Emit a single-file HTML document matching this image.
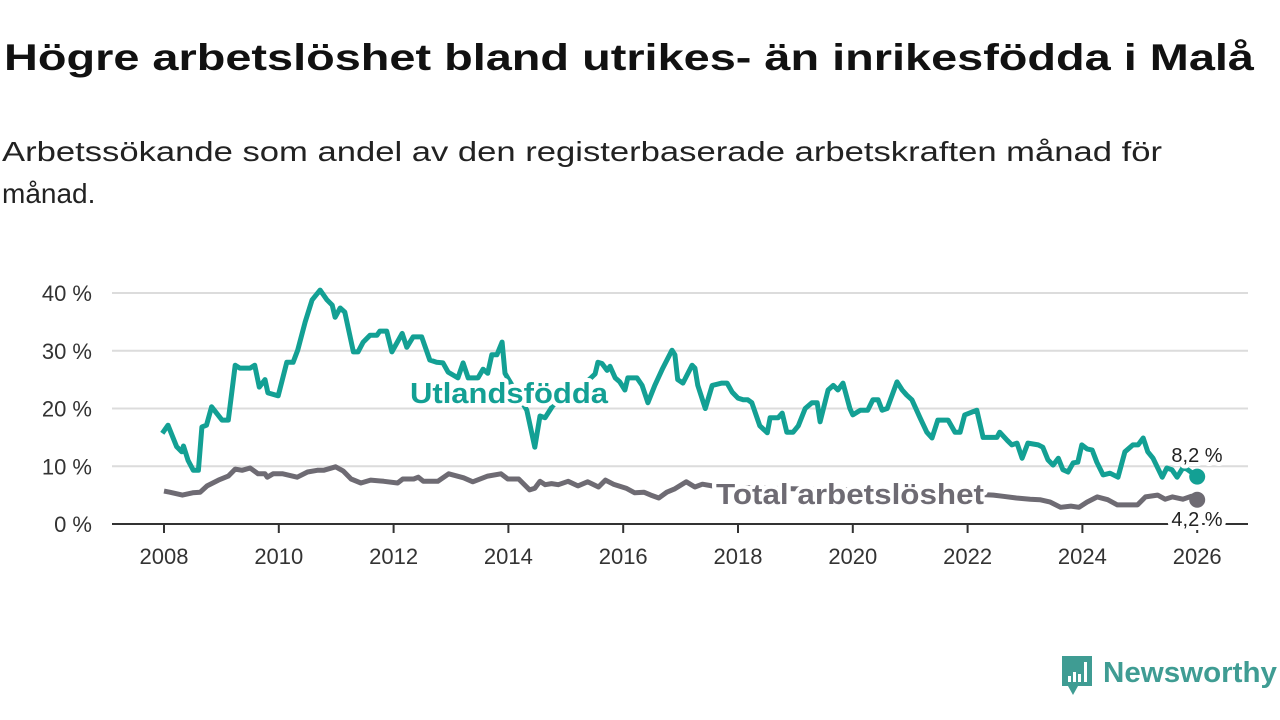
<!DOCTYPE html>
<html><head><meta charset="utf-8"><style>
html,body{margin:0;padding:0;background:#fff;}
svg{display:block;font-family:"Liberation Sans",sans-serif;}
</style></head><body>
<svg id="chart" width="1280" height="720" viewBox="0 0 1280 720">
<text x="4" y="70" font-size="37" font-weight="bold" fill="#111" textLength="1250" lengthAdjust="spacingAndGlyphs">Högre arbetslöshet bland utrikes- än inrikesfödda i Malå</text>
<text x="2" y="161" font-size="28" fill="#222" textLength="1160" lengthAdjust="spacingAndGlyphs">Arbetssökande som andel av den registerbaserade arbetskraften månad för</text>
<text x="2" y="203" font-size="28" fill="#222">månad.</text>
<g id="grid"></g>
<g id="ylabels"></g>
<g id="xaxis"></g>
<g id="series"></g>
<g id="labels"></g>
<g>
<path d="M1062 656 h30 v30 h-14 l-5 9 l-5 -9 h-6 z" fill="#3f9c93"/>
<rect x="1068" y="676" width="3" height="6" fill="#fff"/><rect x="1073" y="672" width="3" height="10" fill="#fff"/><rect x="1078" y="674" width="3" height="8" fill="#fff"/><rect x="1084" y="662" width="3" height="20" fill="#fff"/>
<text x="1103" y="682" font-size="29" font-weight="bold" fill="#3f9c93" textLength="174" lengthAdjust="spacingAndGlyphs">Newsworthy</text>
</g>
</svg>
<script>
const yTicks=[0,10,20,30,40];
const xTicks=[2008,2010,2012,2014,2016,2018,2020,2022,2024,2026];
const utlYears=[
2007.97,2008.07,2008.22,2008.31,2008.34,2008.42,2008.51,2008.6,2008.66,2008.74,
2008.83,2009.01,2009.12,2009.24,2009.32,2009.5,2009.58,2009.66,2009.76,2009.81,
2009.99,2010.14,2010.25,2010.33,2010.46,2010.58,2010.72,2010.84,2010.93,2010.98,
2011.07,2011.15,2011.3,2011.38,2011.47,2011.59,2011.71,2011.76,2011.88,2011.97,
2012.15,2012.23,2012.34,2012.49,2012.63,2012.75,2012.86,2012.95,2013.12,2013.21,
2013.3,2013.47,2013.56,2013.64,2013.71,2013.8,2013.89,2013.94,2014.32,2014.46,
2014.55,2014.64,2014.78,2015.1,2015.3,2015.51,2015.56,2015.63,2015.72,2015.77,
2015.86,2015.94,2016.03,2016.08,2016.24,2016.33,2016.43,2016.55,2016.69,2016.85,
2016.9,2016.95,2017.04,2017.2,2017.25,2017.3,2017.43,2017.55,2017.72,2017.81,
2017.9,2018.0,2018.09,2018.17,2018.24,2018.38,2018.51,2018.56,2018.7,2018.77,
2018.85,2018.96,2019.05,2019.17,2019.29,2019.38,2019.43,2019.57,2019.66,2019.74,
2019.83,2019.95,2020.0,2020.13,2020.26,2020.35,2020.44,2020.51,2020.6,2020.77,
2020.86,2020.94,2021.03,2021.17,2021.29,2021.38,2021.48,2021.66,2021.78,2021.87,
2021.95,2022.16,2022.27,2022.51,2022.56,2022.69,2022.77,2022.86,2022.95,2023.05,
2023.23,2023.31,2023.4,2023.49,2023.58,2023.66,2023.75,2023.84,2023.92,2023.99,
2024.08,2024.17,2024.25,2024.36,2024.48,2024.62,2024.74,2024.88,2024.97,2025.06,
2025.14,2025.23,2025.39,2025.47,2025.56,2025.65,2025.75,2025.82,2026.0];
const utlValues=[
15.7,17.1,13.4,12.5,13.5,11,9.3,9.3,16.8,17.1,
20.3,18,18,27.5,27,27,27.5,23.7,25,22.7,
22.2,28,28,30.1,35,38.8,40.5,38.8,37.9,35.8,
37.4,36.7,29.8,29.8,31.5,32.7,32.7,33.4,33.4,29.8,
33,30.6,32.4,32.4,28.4,28,27.9,26.3,25.3,27.9,
25.3,25.3,26.8,26.1,29.3,29.3,31.5,26.1,19.7,13.3,
18.7,18.4,20.6,22,24,26,28,27.8,26.6,27.3,
25.3,24.6,23.2,25.3,25.3,24,21,24,27,30.1,
29.3,25,24.4,27.5,27,24,20,24,24.4,24.4,
22.8,21.8,21.5,21.5,21,17,15.8,18.4,18.4,19.2,
15.9,15.9,17,20,21,21,17.7,23.2,24,23.2,
24.4,20,18.9,19.7,19.7,21.5,21.5,19.7,20,24.6,
23.2,22.3,21.5,18.4,15.9,14.9,18,18,15.9,15.9,
18.9,19.7,15,15,15.9,14.5,13.7,14,11.4,14,
13.7,13.3,11.1,10.2,11.4,9.4,9,10.6,10.7,13.7,
13,12.8,10.7,8.5,8.8,8.1,12.5,13.7,13.7,14.9,
12.5,11.4,8.1,9.7,9.4,8.1,9.7,9.5,8.2];
const totYears=[
2008.0,2008.1,2008.32,2008.5,2008.63,2008.75,2008.85,2008.95,2009.12,2009.24,
2009.36,2009.5,2009.64,2009.76,2009.8,2009.9,2010.07,2010.32,2010.5,2010.67,
2010.78,2010.99,2011.12,2011.26,2011.43,2011.6,2011.83,2012.07,2012.16,2012.35,
2012.43,2012.52,2012.77,2012.96,2013.22,2013.38,2013.64,2013.87,2013.99,2014.18,
2014.37,2014.46,2014.55,2014.64,2014.75,2014.87,2015.04,2015.21,2015.38,2015.57,
2015.69,2015.83,2016.05,2016.2,2016.36,2016.48,2016.62,2016.76,2016.9,2017.1,
2017.25,2017.38,2017.55,2017.7,2018.5,2019.5,2020.5,2021.5,2022.45,2022.62,
2022.85,2023.09,2023.26,2023.44,2023.62,2023.8,2023.94,2024.08,2024.26,2024.44,
2024.61,2024.79,2024.96,2025.1,2025.31,2025.44,2025.57,2025.75,2025.9,2026.0];
const totValues=[
5.7,5.5,5,5.4,5.5,6.6,7.1,7.6,8.3,9.5,
9.3,9.7,8.7,8.7,8.1,8.7,8.7,8.1,9,9.3,
9.3,9.9,9.2,7.8,7.1,7.6,7.4,7.1,7.8,7.8,
8.1,7.4,7.4,8.7,8,7.3,8.3,8.7,7.8,7.8,
5.9,6.2,7.4,6.8,7,6.8,7.4,6.6,7.3,6.4,
7.6,6.9,6.2,5.4,5.5,5,4.5,5.5,6.1,7.3,
6.4,6.9,6.6,6.4,6.2,6,5.8,5.5,5,4.8,
4.5,4.3,4.2,3.8,2.9,3.1,2.9,3.8,4.7,4.2,
3.3,3.3,3.3,4.7,5,4.3,4.7,4.3,4.8,4.2];
const X=y=>164+(y-2008)*57.4;
const Y=v=>524-v*5.775;
const NS='http://www.w3.org/2000/svg';
function mk(tag,attrs,parent){const e=document.createElementNS(NS,tag);for(const k in attrs)e.setAttribute(k,attrs[k]);parent.appendChild(e);return e;}
const grid=document.getElementById('grid'),yl=document.getElementById('ylabels'),xa=document.getElementById('xaxis'),ser=document.getElementById('series'),lab=document.getElementById('labels');
yTicks.forEach(t=>{
 if(t>0){const g=mk('line',{x1:112,x2:1248,y1:Y(t),y2:Y(t),stroke:'#dcdcdc','stroke-width':2},grid);
 
 }
 const tx=mk('text',{x:92,y:Y(t)+8,'font-size':22,fill:'#333','text-anchor':'end'},yl);tx.textContent=t+' %';
 
 
});
const ax=mk('line',{x1:112,x2:1248,y1:524,y2:524,stroke:'#333','stroke-width':2},xa);


xTicks.forEach(t=>{
 const tk=mk('line',{x1:X(t),x2:X(t),y1:524,y2:533,stroke:'#333','stroke-width':2},xa);
 
 
 const tx=mk('text',{x:X(t),y:564,'font-size':22,fill:'#333','text-anchor':'middle'},xa);tx.textContent=t;
 
 
});
function line(ys,vs,col,name){
 const d=ys.map((y,i)=>(i?'L':'M')+X(y).toFixed(1)+' '+Y(vs[i]).toFixed(1)).join(' ');
 const p=mk('path',{d:d,fill:'none',stroke:col,'stroke-width':5,'stroke-linejoin':'round'},ser);
 
 
 const c=mk('circle',{cx:X(ys[ys.length-1]),cy:Y(vs[vs.length-1]),r:8,fill:col},ser);
 
 
}
line(totYears,totValues,'#6e6b73','total-line');
line(utlYears,utlValues,'#13a094','utlandsfodda-line');
function label(x,y,txt,col,size,bold,name,anchor,len){
 const a={x:x,y:y,'font-size':size,'font-weight':bold?'bold':'normal',fill:col,stroke:'#fff','stroke-width':8,'paint-order':'stroke','stroke-linejoin':'round','text-anchor':anchor||'start'};
 if(len){a.textLength=len;a.lengthAdjust='spacingAndGlyphs';}
 const t=mk('text',a,lab);
 t.textContent=txt;
 
 
}
label(410,403,'Utlandsfödda','#13a094',29,true,'utlandsfodda-label','start',198);
label(716,504,'Total arbetslöshet','#6e6b73',29,true,'total-label','start',268);
label(1197,462,'8,2 %','#222',20,false,'utlandsfodda-end-value','middle');
label(1197,526,'4,2 %','#222',20,false,'total-end-value','middle');
</script>
</body></html>
